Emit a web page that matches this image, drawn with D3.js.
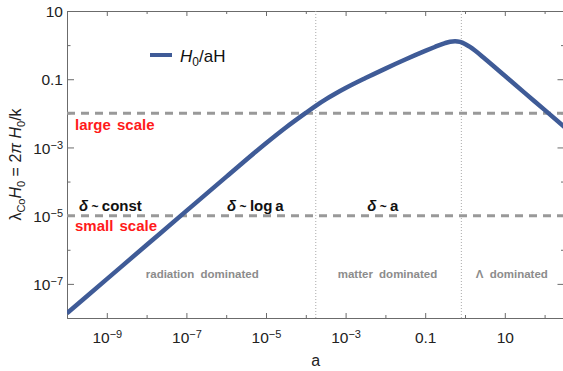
<!DOCTYPE html>
<html>
<head>
<meta charset="utf-8">
<script src="https://cdn.jsdelivr.net/npm/d3@7"></script>
<style>
  body { margin: 0; background: #fff; }
  svg { display: block; font-family: "Liberation Sans", Arial, sans-serif; }
</style>
</head>
<body>
<div id="chart"></div>
<script>
WIDTH = 563;
HEIGHT = 371;

// curve H0/aH
var scaleFactor = [1e-10, 1e-9, 1e-8, 1e-7, 1e-6, 1e-5, 3.16e-5, 1e-4, 1.78e-4, 3.16e-4, 5.62e-4,
  1e-3, 3.16e-3, 0.01, 0.0316, 0.1, 0.178, 0.237, 0.316, 0.422, 0.562, 0.75, 1, 1.334, 1.78,
  3.16, 10, 31.6, 100, 316];
var hubbleRadius = [1.38e-8, 1.38e-7, 1.38e-6, 1.38e-5, 1.37e-4, 1.33e-3, 3.85e-3, 1.03e-2, 1.66e-2,
  2.56e-2, 3.8e-2, 5.5e-2, 0.108, 0.205, 0.378, 0.676, 0.891, 1.02, 1.148, 1.259, 1.303, 1.245,
  1.084, 0.883, 0.692, 0.398, 0.126, 0.0398, 0.0126, 0.00398];

var scaleLines = [1e-2, 1e-5];      // dashed: large / small scale
var eraLines = [1.78e-4, 0.81];     // dotted: equality epochs

var xMajor = [1e-9, 1e-7, 1e-5, 1e-3, 0.1, 10];
var xMinor = [1e-8, 1e-6, 1e-4, 1e-2, 1, 100];
var yMajor = [10, 0.1, 1e-3, 1e-5, 1e-7];
var yMinor = [1, 1e-2, 1e-4, 1e-6];

var regionLabels = ["radiation dominated", "matter dominated", "\u039b dominated"];
var regionAt = [2.5e-7, 0.0113, 15];

var deltaLabels = ["const", "log\u2009a", "a"];
var deltaAt = [2e-10, 1.05e-6, 3.5e-3];

var margin = { top: 11, right: -1.5, bottom: 53, left: 67 };
var lineColor = "#3f5b97";
var frameColor = "#6b6b6b";

var svg = d3.select("#chart").append("svg")
  .attr("width", WIDTH).attr("height", HEIGHT);

const x = d3.scaleLog().domain([1e-10, Math.pow(10, 2.5)])
  .range([margin.left, WIDTH - margin.right]);
const y = d3.scaleLog().domain([1e-8, 10])
  .range([HEIGHT - margin.bottom, margin.top]);

var x0 = x.range()[0], x1 = x.range()[1];
var y0 = y.range()[0], y1 = y.range()[1];

svg.append("clipPath").attr("id", "clip").append("rect")
  .attr("x", x0).attr("y", y1).attr("width", x1 - x0).attr("height", y0 - y1);

// tick label with superscript exponent
function powLabel(sel, v) {
  var e = Math.round(Math.log10(v));
  sel.text(null);
  if (e >= -1 && e <= 1) {
    sel.append("tspan").text(v < 1 ? "0.1" : (v == 1 ? "1" : "10"));
  } else {
    sel.append("tspan").text("10");
    sel.append("tspan").attr("dy", "-0.45em").attr("font-size", "11px")
      .text("\u2212" + Math.abs(e));
  }
}

// frame + inward ticks
function drawAxis(gen, tx, ty, vals, len) {
  var g = svg.append("g").attr("transform", "translate(" + tx + "," + ty + ")")
    .call(gen.tickValues(vals).tickSizeInner(-len).tickSizeOuter(0).tickFormat(""));
  g.select(".domain").attr("stroke", frameColor);
  g.selectAll(".tick line").attr("stroke", frameColor);
  g.selectAll(".tick text").remove();
  return g;
}

var bottomMaj = drawAxis(d3.axisBottom(x), 0, y0, xMajor, 5);
drawAxis(d3.axisBottom(x), 0, y0, xMinor, 3);
drawAxis(d3.axisTop(x), 0, y1, xMajor, 5);
drawAxis(d3.axisTop(x), 0, y1, xMinor, 3);
var leftMaj = drawAxis(d3.axisLeft(y), x0, 0, yMajor, 7);
drawAxis(d3.axisLeft(y), x0, 0, yMinor, 3.5);
drawAxis(d3.axisRight(y), x1, 0, yMajor, 7);
drawAxis(d3.axisRight(y), x1, 0, yMinor, 3.5);

bottomMaj.selectAll(".tick").append("text")
  .attr("y", 25).attr("text-anchor", "middle")
  .attr("font-size", "15.5px").attr("fill", "#222")
  .each(function(d) { powLabel(d3.select(this), d); });

leftMaj.selectAll(".tick").append("text")
  .attr("x", -4).attr("dy", "0.36em").attr("text-anchor", "end")
  .attr("font-size", "15.5px").attr("fill", "#222")
  .each(function(d) { powLabel(d3.select(this), d); });

// reference lines
svg.append("g").selectAll("line").data(eraLines).join("line")
  .attr("x1", d => x(d)).attr("x2", d => x(d))
  .attr("y1", y1).attr("y2", y0)
  .attr("stroke", "#aaa").attr("stroke-width", 1)
  .attr("stroke-dasharray", "1,2");

svg.append("g").selectAll("line").data(scaleLines).join("line")
  .attr("x1", x0).attr("x2", x1)
  .attr("y1", d => y(d)).attr("y2", d => y(d))
  .attr("stroke", "#999").attr("stroke-width", 3)
  .attr("stroke-dasharray", "8,6");

// curve
var line = d3.line()
  .x(d => x(d[0]))
  .y(d => y(d[1]))
  .curve(d3.curveMonotoneX);

svg.append("path")
  .datum(d3.zip(scaleFactor, hubbleRadius))
  .attr("clip-path", "url(#clip)")
  .attr("d", line)
  .attr("fill", "none")
  .attr("stroke", lineColor)
  .attr("stroke-width", 4.5)
  .attr("stroke-linejoin", "round");

// annotations
function redText(txt, i) {
  svg.append("text").attr("x", x0 + 8).attr("y", y(scaleLines[i]) + (i ? 15.5 : 17))
    .attr("font-size", "15px").attr("font-weight", "bold").attr("fill", "#ff1a1a")
    .attr("word-spacing", "2px").text(txt);
}
redText("large scale", 0);
redText("small scale", 1);

deltaAt.forEach(function(v, i) {
  var t = svg.append("text").attr("x", x(v)).attr("y", y(scaleLines[1]) - 5)
    .attr("font-size", "15px").attr("font-weight", "bold").attr("fill", "#111");
  t.append("tspan").attr("font-style", "italic").text("\u03b4");
  t.append("tspan").attr("font-size", "12px").text(" ~ ");
  t.append("tspan").text(deltaLabels[i]);
});

svg.append("g").selectAll("text").data(regionLabels).join("text")
  .attr("x", (d, i) => x(regionAt[i]))
  .attr("y", 278)
  .attr("text-anchor", "middle")
  .attr("font-size", "11.5px").attr("font-weight", "bold")
  .attr("fill", "#8c8c8c").attr("word-spacing", "3px")
  .text(d => d);

// legend
svg.append("line").attr("x1", 150).attr("x2", 172).attr("y1", 55).attr("y2", 55)
  .attr("stroke", lineColor).attr("stroke-width", 4);
var leg = svg.append("text").attr("x", 180).attr("y", 62).attr("font-size", "17px").attr("fill", "#111");
leg.append("tspan").attr("font-style", "italic").text("H");
leg.append("tspan").attr("font-size", "12px").attr("dy", 4).text("0");
leg.append("tspan").attr("dy", -4).text("/aH");

// axis titles
svg.append("text").attr("x", (x0 + x1) / 2).attr("y", 366)
  .attr("text-anchor", "middle").attr("font-size", "16px").attr("fill", "#222").text("a");

var yl = svg.append("text")
  .attr("transform", "translate(20.5," + (y0 + y1) / 2 + ") rotate(-90)")
  .attr("text-anchor", "middle").attr("font-size", "16px").attr("fill", "#222");
yl.append("tspan").text("\u03bb");
yl.append("tspan").attr("font-size", "11px").attr("dy", 4).text("Co");
yl.append("tspan").attr("dy", -4).attr("font-style", "italic").text("H");
yl.append("tspan").attr("font-size", "11px").attr("dy", 4).text("0");
yl.append("tspan").attr("dy", -4).text(" = 2");
yl.append("tspan").attr("font-style", "italic").text("\u03c0 H");
yl.append("tspan").attr("font-size", "11px").attr("dy", 4).text("0");
yl.append("tspan").attr("dy", -4).text("/k");
</script>
</body>
</html>
